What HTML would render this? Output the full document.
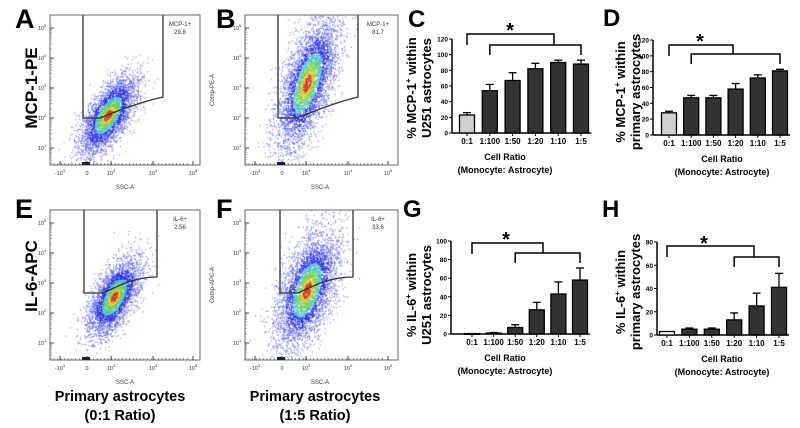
<!DOCTYPE html>
<html><head><meta charset="utf-8">
<style>
html,body{margin:0;padding:0;background:#fff;}
#wrap{position:relative;width:800px;height:428px;overflow:hidden;font-family:"Liberation Sans",Arial,sans-serif;}
canvas{position:absolute;}
svg{position:absolute;left:0;top:0;}
</style></head>
<body>
<div id="wrap">
<canvas id="cA" width="150" height="150" style="left:50px;top:15px"></canvas>
<canvas id="cB" width="153" height="150" style="left:245px;top:15px"></canvas>
<canvas id="cE" width="150" height="150" style="left:50px;top:210px"></canvas>
<canvas id="cF" width="153" height="150" style="left:245px;top:210px"></canvas>
<svg id="svg" width="800" height="428" xmlns="http://www.w3.org/2000/svg"></svg>
</div>
<script>
// ---- bar chart data ----
const categories = ["0:1","1:100","1:50","1:20","1:10","1:5"];
const valuesC = [23,54,67,82,90,88];
const errorsC = [3,8,10,7,3,5];
const ticksC = [0,20,40,60,80,100,120];
const valuesD = [28,47,47,58,72,81];
const errorsD = [2,3,3,7,4,2];
const ticksD = [0,20,40,60,80,100,120];
const valuesG = [0.5,1,7,26,43,58];
const errorsG = [0,0.6,3,8,13,13];
const ticksG = [0,20,40,60,80,100];
const valuesH = [3,5,5,13,25,41];
const errorsH = [0,1,1,6,11,12];
const ticksH = [0,20,40,60,80];

const NS="http://www.w3.org/2000/svg";
const svg=document.getElementById('svg');
function mk(tag,attrs,parent){const e=document.createElementNS(NS,tag);for(const k in attrs)e.setAttribute(k,attrs[k]);(parent||svg).appendChild(e);return e;}
function txt(x,y,s,size,opts,parent){opts=opts||{};const t=mk('text',{x:x,y:y,'font-size':size,'font-weight':opts.w||'bold','text-anchor':opts.a||'middle',fill:opts.f||'#000','font-family':'Liberation Sans, Arial, sans-serif'},parent);if(opts.tr)t.setAttribute('transform',opts.tr);t.textContent=s;return t;}

function barChart(cfg,vals,errs,ticks){
  const g=mk('g',{});
  
  
  const yS=v=>cfg.y0-(v/cfg.ymax)*(cfg.y0-cfg.yTop);
  const xS=i=>cfg.x0c+i*cfg.step;
  const yax=mk('line',{x1:cfg.ax,y1:cfg.yTop,x2:cfg.ax,y2:cfg.y0,stroke:'#000','stroke-width':1.5},g);
  
  const xax=mk('line',{x1:cfg.ax,y1:cfg.y0,x2:xS(5)+cfg.step*0.45,y2:cfg.y0,stroke:'#000','stroke-width':1.5},g);
  
  ticks.forEach(t=>{
    const y=yS(t);
    mk('line',{x1:cfg.ax-3,y1:y,x2:cfg.ax,y2:y,stroke:'#000','stroke-width':1},g);
    const l=txt(cfg.ax-4,y+2.5,String(t),6.5,{a:'end'},g);
    
  });
  vals.forEach((v,i)=>{
    const cx=xS(i),w=15;
    const top=yS(v+errs[i]);
    if(errs[i]>0){
      mk('line',{x1:cx,y1:yS(v),x2:cx,y2:top,stroke:'#000','stroke-width':1.3},g);
      mk('line',{x1:cx-4,y1:top,x2:cx+4,y2:top,stroke:'#000','stroke-width':1.3},g);
    }
    const b=mk('rect',{x:cx-w/2,y:yS(v),width:w,height:Math.max(cfg.y0-yS(v),0.8),fill:i===0?(cfg.firstWhite?'#fff':'#cfcfcf'):'#333',stroke:'#000','stroke-width':1.3},g);
    
    mk('line',{x1:cx,y1:cfg.y0,x2:cx,y2:cfg.y0+3,stroke:'#000','stroke-width':1},g);
    const l=txt(cx,cfg.y0+11,categories[i],8,{},g);
    
  });
  const b1=cfg.br1, b2=cfg.br2;
  mk('polyline',{points:`${xS(b1[0])},${b1[2]+11} ${xS(b1[0])},${b1[2]} ${b1[1]},${b1[2]} ${b1[1]},${b2[2]}`,fill:'none',stroke:'#000','stroke-width':1.5},g);
  mk('polyline',{points:`${xS(b2[0])},${b2[2]+10} ${xS(b2[0])},${b2[2]} ${xS(5)},${b2[2]} ${xS(5)},${b2[2]+10}`,fill:'none',stroke:'#000','stroke-width':1.5},g);
  const st=txt(cfg.star[0],cfg.star[1],'*',20,{},g);
  
  const xt1=txt(cfg.xtc,cfg.y0+27,'Cell Ratio',9,{},g);
  
  txt(cfg.xtc,cfg.y0+40,'(Monocyte: Astrocyte)',9,{},g);
  const yc=cfg.ylc;
  const y1=mk('text',{x:0,y:0,'font-size':13,'font-weight':'bold','text-anchor':'middle','font-family':'Liberation Sans, Arial, sans-serif',transform:`translate(${cfg.yl1},${yc}) rotate(-90)`},g);
  
  y1.innerHTML=cfg.ylab1;
  txt(0,0,cfg.ylab2,13,{tr:`translate(${cfg.yl1+15},${yc}) rotate(-90)`},g);
  const L=txt(cfg.letter[0],cfg.letter[1],cfg.letter[2],24,{a:'start'},g);
  
}

barChart({name:'chart-c',ax:452,y0:133,yTop:39,ymax:120,x0c:467,step:22.8,br1:[0,554,34],br2:[1,0,45],star:[510,37],xtc:505,yl1:416,ylc:88,ylab1:'% MCP-1<tspan font-size="8" dy="-5">+</tspan><tspan dy="5"> within</tspan>',ylab2:'U251 astrocytes',letter:[408,27,'C']},valuesC,errorsC,ticksC);
barChart({name:'chart-d',ax:653,y0:135,yTop:40,ymax:120,x0c:669,step:22.2,br1:[0,733,45],br2:[1,0,54],star:[700,48],xtc:722,yl1:625,ylc:92,ylab1:'% MCP-1<tspan font-size="8" dy="-5">+</tspan><tspan dy="5"> within</tspan>',ylab2:'primary astrocytes',letter:[603,26,'D']},valuesD,errorsD,ticksD);
barChart({name:'chart-g',ax:451,y0:334,yTop:241,ymax:100,x0c:472,step:21.6,br1:[0,543,243],br2:[2,0,253],star:[506,246],xtc:505,yl1:416,ylc:295,ylab1:'% IL-6<tspan font-size="8" dy="-5">+</tspan><tspan dy="5"> within</tspan>',ylab2:'U251 astrocytes',letter:[403,217,'G']},valuesG,errorsG,ticksG);
barChart({name:'chart-h',ax:657,y0:335,yTop:242,ymax:80,x0c:667,step:22.4,br1:[0,754,246],br2:[3,0,257],star:[704,250],xtc:722,yl1:625,ylc:292,ylab1:'% IL-6<tspan font-size="8" dy="-5">+</tspan><tspan dy="5"> within</tspan>',ylab2:'primary astrocytes',letter:[602,217,'H'],firstWhite:true},valuesH,errorsH,ticksH);

// ---- flow plots ----
function flowFrame(name,x,y,w,h,ylab,gate,gname,gval){
  const g=mk('g',{});
  
  mk('rect',{x:x,y:y,width:w,height:h,fill:'none',stroke:'#666','stroke-width':1},g);
  const ey=[13,43,73,103,133];
  ['5','4','3','2','1'].forEach((e,i)=>{
    const yy=y+ey[i];
    mk('line',{x1:x,y1:yy,x2:x+4,y2:yy,stroke:'#444','stroke-width':1},g);
    for(let k=2;k<10;k++){const m=yy+30-30*Math.log10(k);if(m<y+h)mk('line',{x1:x,y1:m,x2:x+2,y2:m,stroke:'#777','stroke-width':0.6},g);}
    const t=txt(x-8,yy+2,'10',5.5,{w:'normal',f:'#333'},g);
    const s=mk('tspan',{'font-size':4,dy:-3},t);s.textContent=e;
  });
  const xl=[[10,'-10','3'],[37,'0',''],[61,'10','3'],[103,'10','4'],[143,'10','5']];
  xl.forEach(a=>{
    mk('line',{x1:x+a[0],y1:y+h,x2:x+a[0],y2:y+h-4,stroke:'#444','stroke-width':1},g);
    const t=txt(x+a[0],y+h+10,a[1],5.5,{w:'normal',f:'#333'},g);
    if(a[2]){const s=mk('tspan',{'font-size':4,dy:-3},t);s.textContent=a[2];}
  });
  for(let k=0;k<38;k++){const xx=x+4+k*3.6;mk('line',{x1:xx,y1:y+h,x2:xx,y2:y+h-2,stroke:'#555','stroke-width':0.6},g);}
  mk('rect',{x:x+32,y:y+h-3,width:8,height:3,fill:'#222'},g);
  const xt=txt(x+75,y+h+24,'SSC-A',6,{w:'normal',f:'#333'},g);
  
  if(ylab){const yt=txt(0,0,ylab,6,{w:'normal',f:'#333',tr:`translate(${x-31},${y+75}) rotate(-90)`},g);}
  const gp=mk('path',{d:gate,fill:'none',stroke:'#333','stroke-width':1.3},g);
  
  txt(x+w-20,y+11,gname,6,{w:'normal',f:'#333'},g);
  txt(x+w-20,y+19,gval,6,{w:'normal',f:'#333'},g);
}
flowFrame('flow-plot-a',50,15,150,150,'', 'M83,15 L83,118 L100,118 C120,110 140,102 163,97 L163,15','MCP-1+','29.8');
flowFrame('flow-plot-b',245,15,153,150,'Comp-PE-A','M278,15 L278,118 L297,118 C317,110 337,102 358,97 L358,15','MCP-1+','81.7');
flowFrame('flow-plot-e',50,210,150,150,'', 'M84,210 L84,293 L103,293 C120,285 135,277 157,277 L157,210','IL-6+','2.56');
flowFrame('flow-plot-f',245,210,153,150,'Comp-APC-A','M280,210 L280,293 L298,293 C315,285 330,277 353,277 L353,210','IL-6+','33.6');

let t=txt(15,28,'A',27,{a:'start'});
t=txt(216,28,'B',27,{a:'start'});
t=txt(15,218,'E',27,{a:'start'});
t=txt(216,218,'F',27,{a:'start'});
t=txt(0,0,'MCP-1-PE',17,{tr:'translate(37,88) rotate(-90)'});
t=txt(0,0,'IL-6-APC',17,{tr:'translate(37,276) rotate(-90)'});
t=txt(120,401,'Primary astrocytes',14.5);
txt(120,420,'(0:1 Ratio)',14.5);
t=txt(315,401,'Primary astrocytes',14.5);
txt(315,420,'(1:5 Ratio)',14.5);

// scatter clouds (decorative density rendering)
function rng(seed){return function(){seed|=0;seed=seed+0x6D2B79F5|0;let t=Math.imul(seed^seed>>>15,1|seed);t=t+Math.imul(t^t>>>7,61|t)^t;return((t^t>>>14)>>>0)/4294967296;};}
function cloud(id,cx,cy,sx,sy,tilt,n,seed){
  const c=document.getElementById(id).getContext('2d');const r=rng(seed);
  const pts=[];
  for(let i=0;i<n;i++){
    const u1=r()||1e-9,u2=r(),u3=r()||1e-9,u4=r();
    const a=Math.sqrt(-2*Math.log(u1))*Math.cos(2*Math.PI*u2);
    const b=Math.sqrt(-2*Math.log(u3))*Math.cos(2*Math.PI*u4);
    pts.push([cx+sx*a,cy-tilt*sx*a-sy*b,a*a+b*b]);
  }
  pts.sort((p,q)=>q[2]-p[2]);
  pts.forEach(p=>{
    const d=p[2];
    c.fillStyle=d<0.08?'#d83018':d<0.2?'#d8c828':d<0.5?'#70d050':d<0.9?'#40c0c8':d<2?'#2028e8':'#5860f0';
    c.fillRect(p[0],p[1],1,1);
  });
}
cloud('cA',58,100,14,15,0.9,3500,1);
cloud('cB',62,68,15,25,1.3,4500,2);
cloud('cE',64,87,13,15,0.9,3500,3);
cloud('cF',62,80,15,24,1.0,4500,4);
</script>
</body></html>
